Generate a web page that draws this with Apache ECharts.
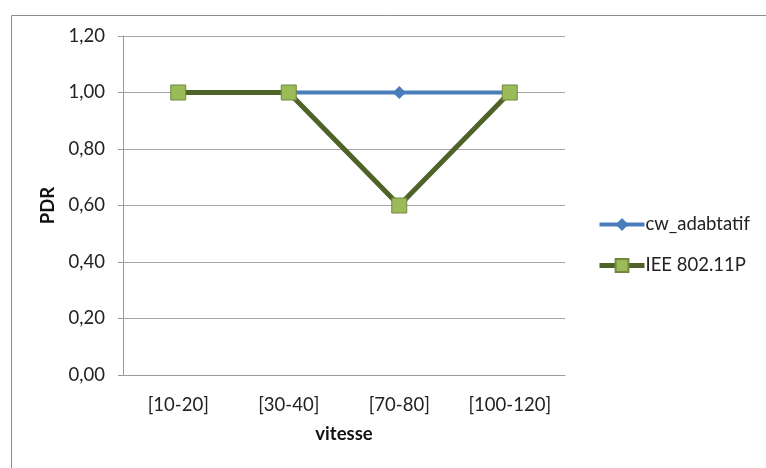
<!DOCTYPE html>
<html>
<head>
<meta charset="utf-8">
<script src="https://cdn.jsdelivr.net/npm/echarts@6/dist/echarts.min.js"></script>
<style>
  html, body { margin: 0; padding: 0; background: #fff; }
  #chart { width: 766px; height: 468px; }
</style>
</head>
<body>
<div id="chart"></div>
<script>
// Speed ranges on the x axis
const categories = ['[10-20]', '[30-40]', '[70-80]', '[100-120]'];
// Packet delivery ratio per protocol
const cwAdaptatif = [1.00, 1.00, 1.00, 1.00];
const iee80211p = [1.00, 1.00, 0.60, 1.00];
const seriesNames = ['cw_adabtatif', 'IEE 802.11P'];

const FONT = 'Lato, "Open Sans", sans-serif';
const FS = 18.5;
const fmt = v => v.toFixed(2).replace('.', ',');

const chart = echarts.init(document.getElementById('chart'), null, { renderer: 'canvas' });
chart.setOption({
  animation: false,
  backgroundColor: '#fff',
  textStyle: { fontFamily: FONT },
  graphic: [{
    type: 'rect',
    left: 9, top: 13,
    shape: { width: 800, height: 520 },
    style: { fill: 'none', stroke: '#8c8c8c', lineWidth: 1 },
    silent: true
  }],
  grid: { left: 123, right: 201, top: 36, bottom: 93 },
  legend: {
    orient: 'vertical',
    left: 592, top: 210,
    itemWidth: 45, itemHeight: 16,
    itemGap: 22,
    textStyle: { fontFamily: FONT, fontSize: FS, color: '#222', padding: [0, 0, 0, -4] },
    data: [
      { name: seriesNames[0], lineStyle: { width: 4 } },
      { name: seriesNames[1], lineStyle: { width: 5 } }
    ]
  },
  xAxis: {
    type: 'category',
    data: categories,
    boundaryGap: true,
    name: 'vitesse',
    nameLocation: 'middle',
    nameGap: 50,
    nameTextStyle: { fontFamily: FONT, fontWeight: 'bold', fontSize: FS, color: '#111' },
    axisLine: { lineStyle: { color: '#9a9a9a', width: 1 } },
    axisTick: { show: false },
    axisLabel: { fontFamily: FONT, fontSize: FS, color: '#222', margin: 21 }
  },
  yAxis: {
    type: 'value',
    min: 0, max: 1.2, interval: 0.2,
    name: 'PDR',
    nameLocation: 'middle',
    nameGap: 63,
    nameRotate: 90,
    nameTextStyle: { fontFamily: FONT, fontWeight: 'bold', fontSize: FS, color: '#111' },
    axisLine: { show: true, lineStyle: { color: '#9a9a9a', width: 1 } },
    axisTick: { show: true, length: 5, lineStyle: { color: '#9a9a9a' } },
    axisLabel: { fontFamily: FONT, fontSize: FS, color: '#222', margin: 18, formatter: fmt },
    splitLine: { lineStyle: { color: '#a6a6a6', width: 1 } }
  },
  series: [
    {
      name: seriesNames[0],
      type: 'line',
      data: cwAdaptatif,
      symbol: 'diamond',
      symbolSize: 12,
      lineStyle: { color: '#4a7ebb', width: 4 },
      itemStyle: { color: '#4a7ebb', borderColor: '#4a7ebb' },
      z: 2
    },
    {
      name: seriesNames[1],
      type: 'line',
      data: iee80211p,
      symbol: 'rect',
      symbolSize: 15,
      lineStyle: { color: '#4f6228', width: 5 },
      itemStyle: { color: '#9bbb59', borderColor: '#71893f', borderWidth: 1 },
      z: 3
    }
  ]
});
</script>
</body>
</html>
